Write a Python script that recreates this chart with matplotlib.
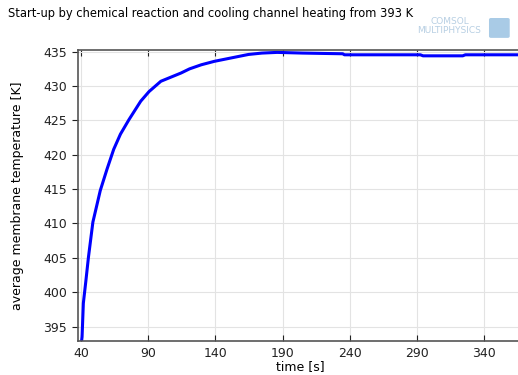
import numpy as np
import matplotlib.pyplot as plt
from matplotlib.patches import FancyBboxPatch

# Dados (tempo em s, temperatura média em K)
tempo = [40.4, 40.75, 41.7, 43.5, 45.5, 48.8, 54.3, 59.3, 64.3, 69.3, 75.6,
         84.4, 90.6, 99.4, 114.4, 120.7, 129.5, 139.2, 159.5, 164.6, 174.6,
         185.9, 204.7, 234.7, 236.0, 292.5, 294.5, 324.0, 326.0, 369.0]
temperatura = [392.9, 393.5, 398.4, 401.5, 405.1, 410.2, 414.8, 417.9, 420.8,
               423.0, 425.1, 427.8, 429.2, 430.7, 431.9, 432.5, 433.1, 433.6,
               434.4, 434.6, 434.8, 434.9, 434.8, 434.7, 434.55, 434.55,
               434.4, 434.4, 434.55, 434.55]
xticks = [40, 90, 140, 190, 240, 290, 340]
yticks = [395, 400, 405, 410, 415, 420, 425, 430, 435]

fig = plt.figure(figsize=(5.18, 3.75), dpi=100)
ax = fig.add_axes([0.150, 0.0907, 0.86, 0.776])

ax.plot(tempo, temperatura, color='#0000ff', lw=2.2, solid_joinstyle='round')

ax.set_xlim(37.5, 369)
ax.set_ylim(392.9, 435.25)
ax.set_xticks(xticks)
ax.set_yticks(yticks)
ax.grid(True, color='#e3e3e3', lw=0.8)
ax.set_axisbelow(True)

for s in ax.spines.values():
    s.set_color('#555555')
    s.set_linewidth(1.2)
ax.tick_params(axis='x', direction='in', top=True, length=4, labelsize=9,
               color='#222222', labelcolor='#222222', pad=4)
ax.tick_params(axis='y', direction='out', length=4, labelsize=9,
               color='#222222', labelcolor='#222222')

ax.set_xlabel('time [s]', fontsize=9, labelpad=0)
ax.set_ylabel('average membrane temperature [K]', fontsize=9, labelpad=14)

fig.text(0.015, 0.965, 'Start-up by chemical reaction and cooling channel heating from 393 K',
         fontsize=8.3, ha='left', va='center')

# Logo COMSOL (apenas texto e um quadrado)
fig.text(0.905, 0.944, 'COMSOL', fontsize=6.5, color='#b7cfe3', ha='right', va='center')
fig.text(0.928, 0.918, 'MULTIPHYSICS', fontsize=6.5, color='#b7cfe3', ha='right', va='center')
fig.patches.append(FancyBboxPatch((0.948, 0.903), 0.032, 0.045, transform=fig.transFigure,
                                  boxstyle='round,pad=0.004', facecolor='#a9cbe6',
                                  edgecolor='none'))

plt.savefig('out.png', dpi=100)
